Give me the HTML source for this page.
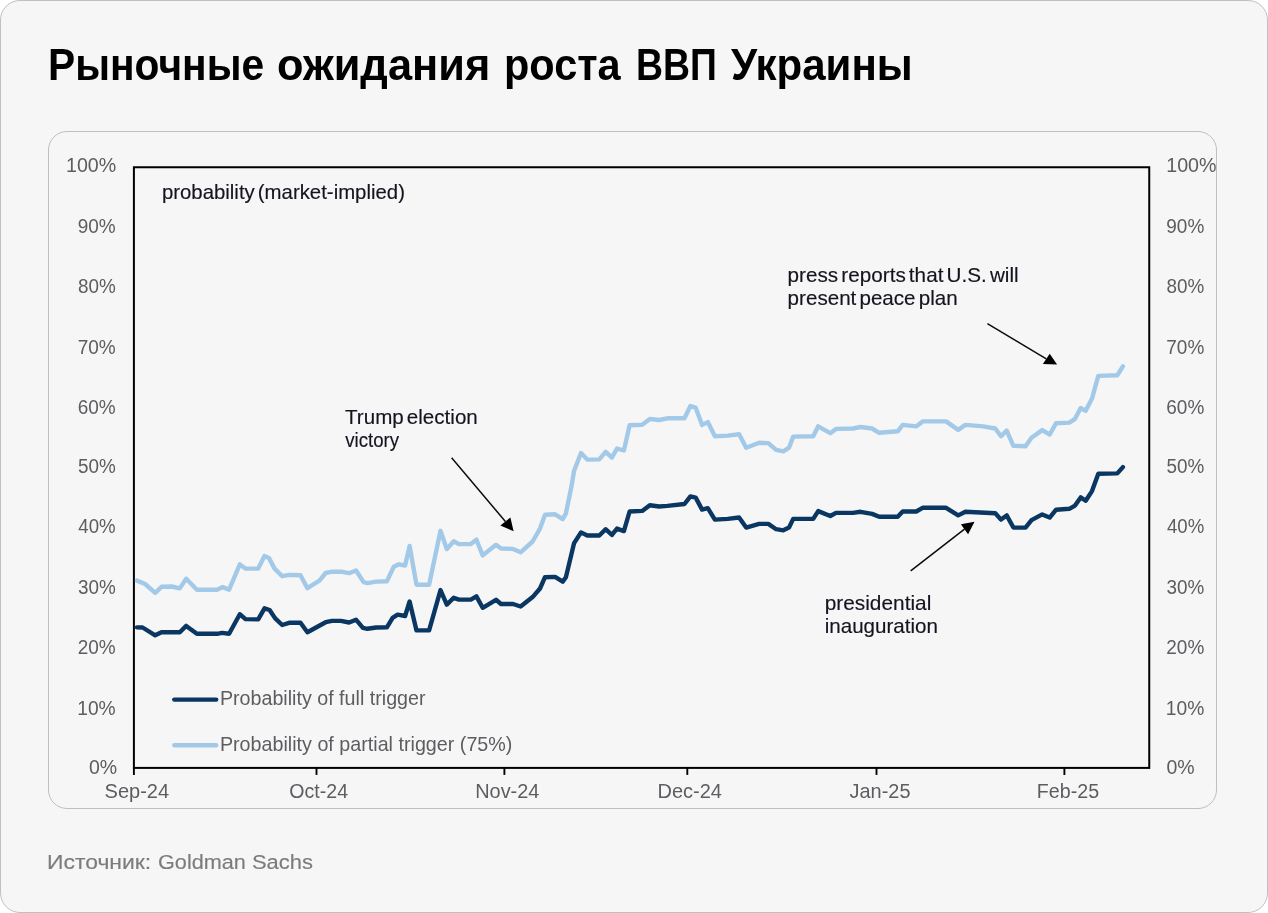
<!DOCTYPE html>
<html lang="ru"><head><meta charset="utf-8"><title>Рыночные ожидания роста ВВП Украины</title>
<style>
html,body{margin:0;padding:0;background:#fff;}
body{width:1268px;height:913px;position:relative;overflow:hidden;font-family:"Liberation Sans",sans-serif;}
.card{position:absolute;left:0;top:0;width:1268px;height:913px;box-sizing:border-box;border:1px solid #c0c0c0;border-radius:20px;background:#f6f6f6;}
h1{position:absolute;left:-1px;top:34.0px;margin:0;width:1268px;height:60px;font-size:44.5px;line-height:60px;font-weight:bold;color:#000;white-space:nowrap;}
h1 span,.src span{position:absolute;top:0;display:block;transform-origin:0 0;white-space:nowrap;}
.box{position:absolute;left:47px;top:130px;width:1169px;height:678px;box-sizing:border-box;border:1px solid #bfbfbf;border-radius:19px;overflow:hidden;}
.box svg{position:absolute;left:-49px;top:-132px;}
.src{position:absolute;left:-1px;top:831.2px;width:1268px;height:60px;font-size:20px;line-height:60px;color:#7c7c7c;-webkit-text-stroke:0.15px #7c7c7c;white-space:nowrap;}
.bl{filter:blur(0.4px);}
svg text{font-family:"Liberation Sans",sans-serif;}
</style></head><body>
<div class="card">
<h1><span style="left:47.68px;transform:scaleX(0.9155)">Рыночные</span><span style="left:277.49px;transform:scaleX(0.9748)">ожидания</span><span style="left:503.93px;transform:scaleX(0.9328)">роста</span><span style="left:635.79px;transform:scaleX(0.8397)">ВВП</span><span style="left:731.20px;transform:scaleX(0.9441)">Украины</span></h1>
<div class="box">
<svg width="1268" height="913" viewBox="0 0 1268 913">
<g font-size="20.5" fill="#5d5d61" class="bl"><text transform="translate(65.96 172.45) scale(0.9592 1)">100%</text><text transform="translate(1166.26 172.45) scale(0.9592 1)">100%</text><text transform="translate(77.67 233.00) scale(0.9266 1)">90%</text><text transform="translate(1166.27 233.00) scale(0.9266 1)">90%</text><text transform="translate(77.91 293.30) scale(0.9208 1)">80%</text><text transform="translate(1166.51 293.30) scale(0.9208 1)">80%</text><text transform="translate(77.67 353.90) scale(0.9266 1)">70%</text><text transform="translate(1166.27 353.90) scale(0.9266 1)">70%</text><text transform="translate(77.67 414.20) scale(0.9266 1)">60%</text><text transform="translate(1166.27 414.20) scale(0.9266 1)">60%</text><text transform="translate(77.91 473.30) scale(0.9208 1)">50%</text><text transform="translate(1166.51 473.30) scale(0.9208 1)">50%</text><text transform="translate(78.37 533.40) scale(0.9093 1)">40%</text><text transform="translate(1166.97 533.40) scale(0.9093 1)">40%</text><text transform="translate(77.91 593.95) scale(0.9208 1)">30%</text><text transform="translate(1166.51 593.95) scale(0.9208 1)">30%</text><text transform="translate(77.67 654.30) scale(0.9266 1)">20%</text><text transform="translate(1166.27 654.30) scale(0.9266 1)">20%</text><text transform="translate(77.19 714.90) scale(0.9385 1)">10%</text><text transform="translate(1165.79 714.90) scale(0.9385 1)">10%</text><text transform="translate(88.99 773.80) scale(0.9522 1)">0%</text><text transform="translate(1166.49 773.80) scale(0.9522 1)">0%</text>
<text transform="translate(104.52 797.90) scale(0.9783 1)">Sep-24</text><text transform="translate(289.35 797.90) scale(0.9550 1)">Oct-24</text><text transform="translate(475.14 797.90) scale(0.9734 1)">Nov-24</text><text transform="translate(657.54 797.90) scale(0.9750 1)">Dec-24</text><text transform="translate(849.56 797.90) scale(0.9724 1)">Jan-25</text><text transform="translate(1036.86 797.90) scale(0.9578 1)">Feb-25</text></g>
<g font-size="19.8" fill="#5d5d61" class="bl"><text transform="translate(219.91 705.00) scale(0.9941 1)">Probability of full trigger</text><text transform="translate(219.91 750.50) scale(0.9959 1)">Probability of partial trigger (75%)</text></g>
<rect x="133.9" y="167.25" width="1015.35" height="600.65" fill="none" stroke="#000" stroke-width="2"/>
<g stroke="#000" stroke-width="1.9"><line x1="133.9" y1="767.9" x2="133.9" y2="774.9"/><line x1="316.5" y1="767.9" x2="316.5" y2="774.9"/><line x1="504.4" y1="767.9" x2="504.4" y2="774.9"/><line x1="687.3" y1="767.9" x2="687.3" y2="774.9"/><line x1="876.5" y1="767.9" x2="876.5" y2="774.9"/><line x1="1064.4" y1="767.9" x2="1064.4" y2="774.9"/></g>
<g font-size="19.8" fill="#15131f" stroke="#15131f" stroke-width="0.15" style="word-spacing:-2.5px" class="bl"><text transform="translate(161.91 198.70) scale(1.0293 1)">probability (market-implied)</text><text transform="translate(787.59 282.30) scale(1.0453 1)">press reports that U.S. will</text><text transform="translate(787.60 305.00) scale(1.0407 1)">present peace plan</text><text transform="translate(345.04 423.60) scale(1.0400 1)">Trump election</text><text transform="translate(345.30 446.70) scale(0.9421 1)">victory</text><text transform="translate(824.68 609.70) scale(1.0532 1)">presidential</text><text transform="translate(824.70 632.70) scale(1.0394 1)">inauguration</text></g>
<line x1="987.4" y1="323.6" x2="1046.3" y2="358.9" stroke="#0b0b0b" stroke-width="1.5"/><polygon points="1057.1,364.6 1049.7,353.7 1042.9,364.1" fill="#000"/>
<line x1="451.6" y1="457.7" x2="505.4" y2="521.5" stroke="#0b0b0b" stroke-width="1.5"/><polygon points="513.6,531.3 510.4,517.5 500.4,525.5" fill="#000"/>
<line x1="910.7" y1="570.8" x2="964.5" y2="529.2" stroke="#0b0b0b" stroke-width="1.5"/><polygon points="974.5,521.8 960.9,524.2 968.1,534.3" fill="#000"/>
<g class="bl"><polyline points="137.0,580.6 145.1,584.0 155.2,592.8 161.5,586.8 171.6,586.5 179.8,588.4 186.2,578.7 196.9,589.7 217.1,589.7 222.7,587.1 229.1,589.7 239.8,564.4 245.5,568.6 258.2,568.6 264.5,556.0 268.9,557.9 274.6,568.6 282.2,576.2 289.1,574.9 300.5,575.3 307.4,588.1 319.4,580.6 325.7,573.0 332.0,571.7 340.9,571.7 349.1,573.2 356.0,570.5 363.6,582.1 367.4,583.1 376.2,581.6 386.9,581.2 393.8,566.8 398.8,564.3 405.1,565.5 409.6,546.0 416.5,584.7 429.1,584.7 440.5,530.8 446.8,549.1 453.7,541.3 458.8,544.1 470.8,544.1 476.4,539.7 482.7,555.4 496.0,544.7 501.0,548.5 513.0,548.9 520.6,552.3 532.6,541.5 540.0,528.6 545.0,514.7 555.1,514.3 562.7,519.1 565.9,513.4 571.5,486.3 574.1,470.7 581.0,453.0 587.3,459.6 599.3,459.4 605.6,451.8 611.9,457.5 617.0,448.6 623.9,450.5 629.6,425.3 642.2,424.7 649.8,419.0 659.2,420.0 667.4,418.3 684.5,418.3 690.4,406.0 695.7,407.7 702.1,424.9 707.8,422.1 714.9,436.3 727.7,435.6 739.1,434.2 746.2,447.7 759.1,442.7 768.3,443.1 776.1,449.8 783.3,451.3 789.0,447.7 793.2,436.6 813.2,436.3 818.2,426.3 830.3,433.2 836.0,428.9 853.0,428.5 860.5,427.0 872.1,428.5 879.2,432.8 897.7,431.3 902.7,424.9 916.2,426.4 922.6,421.4 946.1,421.4 958.2,429.9 965.4,424.9 983.2,426.4 995.3,428.5 1001.0,436.3 1006.7,430.6 1013.4,445.8 1025.5,446.2 1031.5,437.7 1042.2,430.1 1049.7,434.5 1056.1,423.2 1069.3,422.6 1075.0,418.8 1080.7,408.0 1085.7,410.8 1092.0,398.6 1098.3,375.9 1117.3,375.2 1122.9,366.4" fill="none" stroke="#a3c9e8" stroke-width="4.4" stroke-linejoin="round" stroke-linecap="round"/>
<polyline points="137.0,627.4 142.6,627.5 155.2,635.3 161.5,632.2 179.8,632.2 186.2,625.9 196.9,633.8 217.1,633.8 222.1,632.9 229.1,633.8 239.8,614.3 245.5,619.1 258.2,619.4 264.5,608.3 269.6,610.0 275.2,618.4 282.2,625.0 289.1,622.8 300.5,622.8 307.4,632.3 318.8,626.0 325.7,622.2 332.0,620.9 340.9,620.9 349.1,622.5 356.0,619.7 362.9,627.9 367.4,628.8 376.2,627.5 386.9,627.3 392.6,617.8 397.6,614.6 405.1,616.0 409.6,601.5 416.5,630.4 429.1,630.4 440.5,590.1 446.8,604.6 453.7,597.7 458.8,599.6 470.8,599.6 476.4,596.4 482.7,607.8 496.0,599.8 501.0,604.0 513.0,604.0 520.6,606.5 532.6,597.1 540.0,588.5 545.0,577.2 555.1,576.9 562.7,581.6 565.9,577.2 574.1,543.1 581.0,532.4 587.3,535.5 599.3,535.5 605.6,529.2 611.9,534.9 617.0,528.6 623.9,531.1 629.6,511.5 642.2,510.9 649.8,505.2 659.2,506.5 667.4,505.9 684.5,504.0 690.4,496.4 695.7,497.6 702.1,509.6 707.8,508.2 714.9,519.6 727.7,518.9 739.1,517.5 746.2,527.6 759.1,523.9 768.3,523.9 776.1,529.2 783.3,530.3 789.0,527.6 793.2,518.9 813.2,518.9 818.2,511.1 830.3,516.0 836.0,512.9 853.0,512.9 860.5,511.8 872.1,513.9 879.2,516.8 897.7,516.8 902.7,511.5 916.2,511.5 922.6,507.8 946.1,507.8 958.2,515.4 965.4,511.8 995.3,513.2 1001.0,519.6 1006.7,515.4 1013.4,527.5 1025.5,527.6 1031.5,520.1 1042.2,514.4 1049.7,517.6 1056.1,509.7 1069.3,508.8 1075.0,505.6 1080.7,497.4 1085.7,500.8 1092.0,491.1 1098.3,473.8 1117.3,473.4 1122.9,467.1" fill="none" stroke="#0a3762" stroke-width="4.4" stroke-linejoin="round" stroke-linecap="round"/>
<line x1="174.3" y1="699.6" x2="216.2" y2="699.6" stroke="#0a3762" stroke-width="4.4" stroke-linecap="round"/>
<line x1="174.3" y1="745.2" x2="216.2" y2="745.2" stroke="#a3c9e8" stroke-width="4.4" stroke-linecap="round"/></g>
</svg>
</div>
<div class="src"><span style="left:47.28px;transform:scaleX(1.1453)">Источник:</span><span style="left:157.72px;transform:scaleX(1.0823)">Goldman</span><span style="left:251.70px;transform:scaleX(1.0963)">Sachs</span></div>
</div>
</body></html>
